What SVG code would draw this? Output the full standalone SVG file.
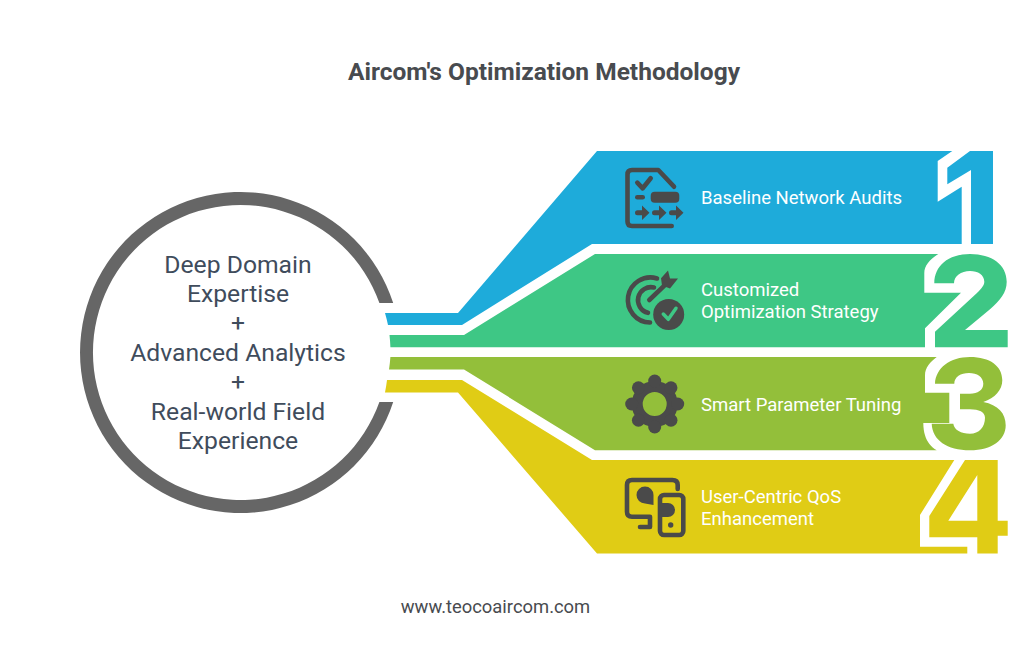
<svg xmlns="http://www.w3.org/2000/svg" width="1024" height="649" viewBox="0 0 1024 649">
<style>
text{font-family:Roboto,"Liberation Sans",sans-serif}
.title{font-size:24.5px;font-weight:700;fill:#484b4f;text-anchor:middle}
.hub{font-size:24.7px;fill:#3f4c5c;text-anchor:middle}
.lbl{font-size:18.5px;fill:#fff;font-weight:400}
.foot{font-size:18.4px;fill:#484b4f;text-anchor:middle}
.ic{fill:none;stroke:#4a4a4a;stroke-width:4.6;stroke-linecap:round;stroke-linejoin:round}
.if{fill:#4a4a4a}
</style>
<defs>
<circle id="lobe" cx="0" cy="-23" r="6.5" class="if"/>
</defs>
<rect width="1024" height="649" fill="#fff"/>
<text class="title" x="544" y="80">Aircom's Optimization Methodology</text>

<g id="hub">
<path fill="#666" d="M393.2,303 A160.5,160.5 0 1 0 393.2,402 L379.4,402 A147.5,147.5 0 1 1 379.4,303 Z"/>
<text class="hub" x="238" y="272.5">Deep Domain</text>
<text class="hub" x="238" y="301.5">Expertise</text>
<text class="hub" x="238" y="331">+</text>
<text class="hub" x="238" y="360.5">Advanced Analytics</text>
<text class="hub" x="238" y="390">+</text>
<text class="hub" x="238" y="419.5">Real-world Field</text>
<text class="hub" x="238" y="448.5">Experience</text>
</g>

<g id="connectors">
<path id="band1" fill="#1eabda" d="M385,313 L458,313 L597,151 L952.3,151 L937.7,161 L937.7,201.7 L961.7,186.7 L961.7,244 L592,244 L462,325 L388,325 A150,150 0 0 0 385,313 Z"/>
<path id="num1" fill="#1eabda" d="M970,151 L993,151 L993,244 L971,244 L971,170 L947.3,184.3 L947.3,167.7 Z"/>
<path id="band2" fill="#3ec785" d="M389.5,335 L464,335 L595,254 L938.3,254 C929,260 924.3,266 924.3,273.3 L924.3,292.7 L961,292.7 L925,328.3 L925,347.3 L390.4,347.3 A150,150 0 0 0 389.5,335 Z"/>
<path id="num2" fill="#3ec785" d="M934.3,283.3 C934.3,266 948,254 970,254 C992,254 1006.7,265 1006.7,281.7 C1006.7,293 1000,300 990,309.3 L965,330 L1007.7,330 L1007.7,347.3 L935,347.3 L935,331.7 L976.7,293.3 C982,288 984.3,285 984.3,281.7 C984.3,275 978,271 970,271 C961,271 954,276 954,283.3 Z"/>
<path id="band3" fill="#93bf3a" d="M390.4,357 L936.7,357 C930,362 925,368 925,375.3 L925,392.7 L949.3,392.7 L949.3,423 L923.3,423 C923.3,428 924,432 925,435.3 C927,442 931,447 936.7,450.3 L595,450.3 L464,369.5 L389,369.5 A150,150 0 0 0 390.4,357 Z"/>
<path id="num3" fill="#93bf3a" d="M935,383.7 C935.7,368 950,357 970,357 C990,357 1002.3,366 1002.3,380.3 C1002.3,390 995,398 983.3,402 C998,405 1005.7,413 1005.7,425.3 C1005.7,440 992,450.3 970,450.3 C947,450.3 932.3,440 931.7,423.7 L953.3,423.7 C954.3,430 961,433.7 970,433.7 C979,433.7 985,427 985,417.7 C985,412 979,409.3 970,409.3 L960,409.3 L960,393.7 L970,393.7 C977.7,393.7 983.3,390 983.3,383.7 C983.3,377 977,373 969,373 C960.7,373 954.3,377 954.3,383.7 Z"/>
<path id="band4" fill="#e0cc15" d="M387,380 L462,380 L592,460 L954.3,460 L920,515 L920,546.7 L967.3,546.7 L967.3,553.5 L597,553.5 L458,392.5 L385,392.5 A150,150 0 0 0 387,380 Z"/>
<path id="num4" fill="#e0cc15" fill-rule="evenodd" d="M965,460 L997.7,460 L997.7,520.7 L1007.7,520.7 L1007.7,535.7 L997.7,535.7 L997.7,553.5 L977.3,553.5 L977.3,537.3 L929.3,537.3 L929.3,516 Z M977.3,475 L948.3,520.7 L977.3,520.7 Z"/>
</g>

<g id="step1">
<path class="ic" d="M674,186.7 L658.3,170 L632,170 Q627.5,170 627.5,174.5 L627.5,221.5 Q627.5,226 632,226 L671.7,226"/>
<path class="ic" d="M637.3,182.7 L642.7,188.3 L650.7,178.3"/>
<path class="ic" d="M637.3,197.3 L642.7,197.3"/>
<rect class="if" x="650.7" y="191.7" width="28.6" height="11" rx="4"/>
<path class="ic" style="stroke-width:5" d="M637.5,212.7 L645,212.7 M654.5,212.7 L662,212.7 M671.5,212.7 L679,212.7"/>
<path class="if" d="M642,205.5 L649.5,212.7 L642,220 Z M659,205.5 L666.5,212.7 L659,220 Z M676,205.5 L683.5,212.7 L676,220 Z"/>
<text class="lbl" x="701" y="203.5">Baseline Network Audits</text>
</g>

<g id="step2">
<path class="ic" d="M657,278.5 A22.5,22.5 0 1 0 650,322.5"/>
<path class="ic" d="M654,287.5 A13,13 0 1 0 648,312.8"/>
<path class="ic" d="M649.3,300 L666.7,283.3"/>
<path class="if" d="M661,278.3 L668,270.5 L670,278.5 L678,278.5 L670,288.5 L662,285.5 Z"/>
<circle class="if" cx="668.7" cy="314.5" r="15.5"/>
<path class="ic" style="stroke:#3ec785;stroke-width:3.5" d="M663.3,314 L668.3,319.3 L676,308.3"/>
<text class="lbl" x="701" y="296">Customized</text>
<text class="lbl" x="701" y="318">Optimization Strategy</text>
</g>

<g id="step3">
<g transform="translate(654.7,404)">
<circle r="17.5" fill="none" stroke="#4a4a4a" stroke-width="11"/>
<use href="#lobe"/>
<use href="#lobe" transform="rotate(45)"/>
<use href="#lobe" transform="rotate(90)"/>
<use href="#lobe" transform="rotate(135)"/>
<use href="#lobe" transform="rotate(180)"/>
<use href="#lobe" transform="rotate(225)"/>
<use href="#lobe" transform="rotate(270)"/>
<use href="#lobe" transform="rotate(315)"/>
</g>
<text class="lbl" x="701" y="410.7">Smart Parameter Tuning</text>
</g>

<g id="step4">
<path class="ic" d="M677.7,489 L677.7,485 Q677.7,480 672.3,480 L632,480 Q627,480 627,485 L627,511.7 Q627,516.7 632,516.7 L650,516.7 L650,527 L640,527"/>
<path class="if" d="M645,486.5 A8.5,8.5 0 0 1 653.5,495 L653.5,505 L645,503.5 A8.5,8.5 0 0 1 645,486.5 Z"/>
<rect class="ic" x="660" y="495" width="23.3" height="40" rx="4"/>
<path class="if" d="M660,503 L668,503 A7,7 0 0 1 668,517 L660,517 Z"/>
<circle class="if" cx="670.7" cy="525" r="2.7"/>
<text class="lbl" x="701" y="502.7">User-Centric QoS</text>
<text class="lbl" x="701" y="525">Enhancement</text>
</g>

<text class="foot" x="495.5" y="612.5">www.teocoaircom.com</text>
</svg>
